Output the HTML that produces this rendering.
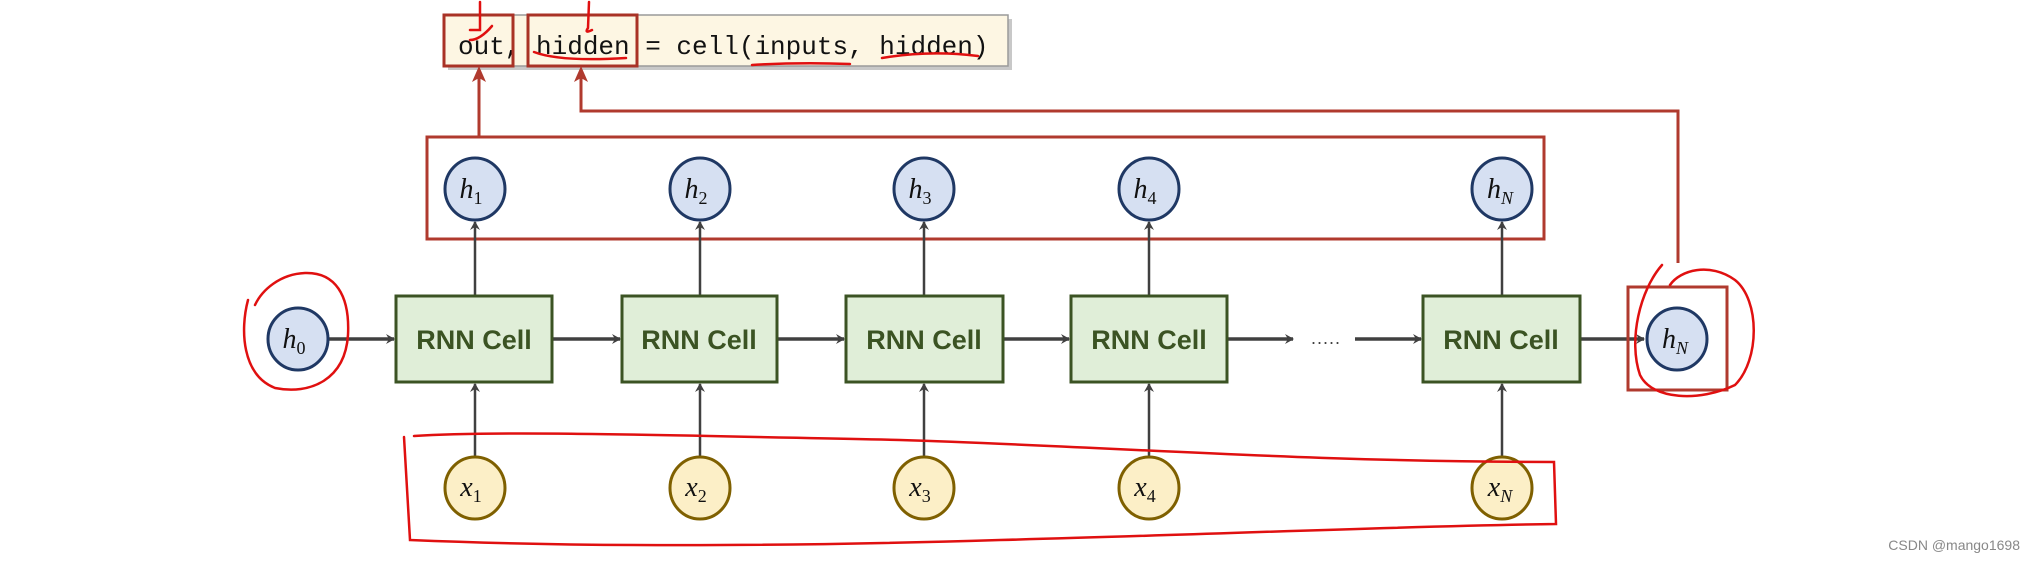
<!DOCTYPE html>
<html><head><meta charset="utf-8"><style>
html,body{margin:0;padding:0;background:#fff;}
svg{display:block}
</style></head><body>
<svg width="2028" height="562" viewBox="0 0 2028 562" xmlns="http://www.w3.org/2000/svg">
<defs>
<marker id="ag" markerWidth="10" markerHeight="10" refX="8" refY="5" orient="auto" markerUnits="userSpaceOnUse"><path d="M0,0 L9,5 L0,10 L3,5 Z" fill="#404040"/></marker>
<marker id="ar" markerWidth="14" markerHeight="14" refX="7" refY="1" orient="auto" markerUnits="userSpaceOnUse"><path d="M1,14 L7,1 L13,14 L7,10 Z" fill="#b03a2e" transform="rotate(90 7 7)"/></marker>
</defs>
<!-- code box -->
<rect x="448" y="19" width="564" height="51" fill="#c8c8c8"/>
<rect x="444" y="15" width="564" height="51" fill="#fdf6e3" stroke="#9a9a9a" stroke-width="1.5"/>
<text x="458" y="54" font-family="Liberation Mono, monospace" font-size="26" fill="#111">out, hidden = cell(inputs, hidden)</text>
<rect x="444" y="15" width="69" height="51" fill="none" stroke="#a93226" stroke-width="3"/>
<rect x="528" y="15" width="109" height="51" fill="none" stroke="#a93226" stroke-width="3"/>
<!-- red squiggles on text -->
<g fill="none" stroke="#e01010" stroke-width="2.5" stroke-linecap="round">
<path d="M480,2 L480,30 L470,30"/><path d="M470,40 Q480,40 492,26"/>
<path d="M589,2 L588,28 Q584,34 592,30"/>
<path d="M534,52 Q560,62 626,58"/>
<path d="M752,65 Q800,62 850,64"/>
<path d="M882,58 Q930,50 978,56"/>
</g>
<!-- red connectors -->
<g stroke="#b03a2e" stroke-width="3" fill="none">
<line x1="479" y1="137" x2="479" y2="70"/>
<polyline points="1678,263 1678,111 581,111 581,70"/>
</g>
<path d="M479,66 L472,82 L479,78 L486,82 Z" fill="#b03a2e"/>
<path d="M581,66 L574,82 L581,78 L588,82 Z" fill="#b03a2e"/>
<!-- big red box -->
<rect x="427" y="137" width="1117" height="102" fill="none" stroke="#b03a2e" stroke-width="3"/>
<!-- vertical gray arrows -->
<g stroke="#404040" stroke-width="2.5" marker-end="url(#ag)">
<line x1="475" y1="296" x2="475" y2="222"/><line x1="700" y1="296" x2="700" y2="222"/>
<line x1="924" y1="296" x2="924" y2="222"/><line x1="1149" y1="296" x2="1149" y2="222"/>
<line x1="1502" y1="296" x2="1502" y2="222"/>
<line x1="475" y1="457" x2="475" y2="384"/><line x1="700" y1="457" x2="700" y2="384"/>
<line x1="924" y1="457" x2="924" y2="384"/><line x1="1149" y1="457" x2="1149" y2="384"/>
<line x1="1502" y1="457" x2="1502" y2="384"/>
</g>
<!-- horizontal arrows -->
<g stroke="#404040" stroke-width="3.5" marker-end="url(#ag)">
<line x1="329" y1="339" x2="394" y2="339"/><line x1="552" y1="339" x2="620" y2="339"/>
<line x1="777" y1="339" x2="844" y2="339"/><line x1="1003" y1="339" x2="1069" y2="339"/>
<line x1="1227" y1="339" x2="1293" y2="339"/><line x1="1355" y1="339" x2="1421" y2="339"/>
<line x1="1580" y1="339" x2="1644" y2="339"/>
</g>
<text x="1311" y="344" font-family="Liberation Sans, sans-serif" font-size="18" fill="#404040" letter-spacing="1">.....</text>
<!-- cells -->
<g font-family="Liberation Sans, sans-serif" font-size="27" font-weight="bold" fill="#3b5323" text-anchor="middle">
<rect x="396" y="296" width="156" height="86" fill="#e0eed8" stroke="#3b5323" stroke-width="3"/><text x="474" y="349">RNN Cell</text>
<rect x="622" y="296" width="155" height="86" fill="#e0eed8" stroke="#3b5323" stroke-width="3"/><text x="699" y="349">RNN Cell</text>
<rect x="846" y="296" width="157" height="86" fill="#e0eed8" stroke="#3b5323" stroke-width="3"/><text x="924" y="349">RNN Cell</text>
<rect x="1071" y="296" width="156" height="86" fill="#e0eed8" stroke="#3b5323" stroke-width="3"/><text x="1149" y="349">RNN Cell</text>
<rect x="1423" y="296" width="157" height="86" fill="#e0eed8" stroke="#3b5323" stroke-width="3"/><text x="1501" y="349">RNN Cell</text>
</g>
<!-- h nodes -->
<g fill="#d6e0f2" stroke="#1f3864" stroke-width="3">
<ellipse cx="475" cy="189" rx="30" ry="31"/><ellipse cx="700" cy="189" rx="30" ry="31"/>
<ellipse cx="924" cy="189" rx="30" ry="31"/><ellipse cx="1149" cy="189" rx="30" ry="31"/>
<ellipse cx="1502" cy="189" rx="30" ry="31"/>
<ellipse cx="298" cy="339" rx="30" ry="31"/><ellipse cx="1677" cy="339" rx="30" ry="31"/>
</g>
<g fill="#fcefc7" stroke="#7f6000" stroke-width="3">
<ellipse cx="475" cy="488" rx="30" ry="31"/><ellipse cx="700" cy="488" rx="30" ry="31"/>
<ellipse cx="924" cy="488" rx="30" ry="31"/><ellipse cx="1149" cy="488" rx="30" ry="31"/>
<ellipse cx="1502" cy="488" rx="30" ry="31"/>
</g>
<g font-family="Liberation Serif, serif" font-style="italic" font-size="28" fill="#111" text-anchor="middle">
<text x="471" y="198">h<tspan font-size="18" font-style="normal" dy="6">1</tspan></text>
<text x="696" y="198">h<tspan font-size="18" font-style="normal" dy="6">2</tspan></text>
<text x="920" y="198">h<tspan font-size="18" font-style="normal" dy="6">3</tspan></text>
<text x="1145" y="198">h<tspan font-size="18" font-style="normal" dy="6">4</tspan></text>
<text x="1500" y="198">h<tspan font-size="18" dy="6">N</tspan></text>
<text x="294" y="348">h<tspan font-size="18" font-style="normal" dy="6">0</tspan></text>
<text x="1675" y="348">h<tspan font-size="18" dy="6">N</tspan></text>
<text x="471" y="496">x<tspan font-size="18" font-style="normal" dy="6">1</tspan></text>
<text x="696" y="496">x<tspan font-size="18" font-style="normal" dy="6">2</tspan></text>
<text x="920" y="496">x<tspan font-size="18" font-style="normal" dy="6">3</tspan></text>
<text x="1145" y="496">x<tspan font-size="18" font-style="normal" dy="6">4</tspan></text>
<text x="1500" y="496">x<tspan font-size="18" dy="6">N</tspan></text>
</g>
<!-- small red box around hN -->
<rect x="1628" y="287" width="99" height="103" fill="none" stroke="#b03a2e" stroke-width="3"/>
<!-- hand-drawn red -->
<g fill="none" stroke="#e01010" stroke-width="2.5" stroke-linecap="round">
<path d="M248,300 C240,330 242,375 275,388 C310,395 345,380 348,335 C350,295 335,272 305,273 C280,274 262,290 255,305"/>
<path d="M1662,265 C1640,290 1628,340 1640,375 C1652,400 1700,402 1735,385 C1760,360 1760,300 1735,280 C1710,262 1680,270 1670,285"/>
<path d="M414,436 C500,430 700,436 900,440 C1100,446 1300,462 1554,462 L1556,524 C1400,526 1200,535 1000,540 C800,546 600,548 410,540 L404,437"/>
</g>
<text x="2020" y="550" text-anchor="end" font-family="Liberation Sans, sans-serif" font-size="14" fill="#888">CSDN @mango1698</text>
</svg>
</body></html>
